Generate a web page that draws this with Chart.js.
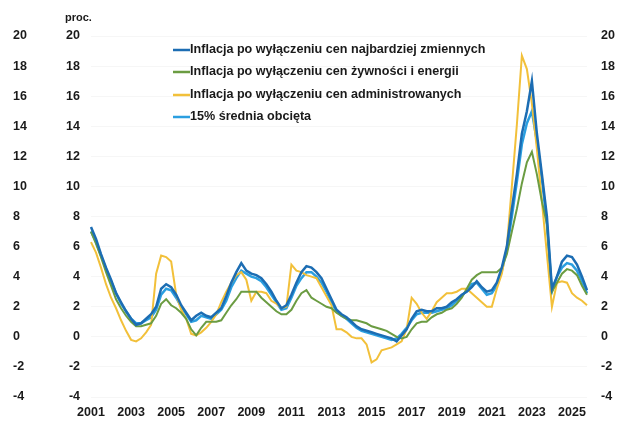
<!DOCTYPE html>
<html>
<head>
<meta charset="utf-8">
<script src="https://cdn.jsdelivr.net/npm/chart.js@4.4.1/dist/chart.umd.min.js"></script>
<style>
  html, body { margin: 0; padding: 0; background: #fff; }
</style>
</head>
<body>
<canvas id="chart" width="617" height="421"></canvas>
<script>
// lata na osi X (dane kwartalne)
const years = [2001, 2002, 2003, 2004, 2005, 2006, 2007, 2008, 2009, 2010, 2011, 2012, 2013,
  2014, 2015, 2016, 2017, 2018, 2019, 2020, 2021, 2022, 2023, 2024, 2025];
const quarters = ["I", "II", "III", "IV"];

// inflacja po wyłączeniu cen najbardziej zmiennych
const bezZmiennych = [
  7.3, 6.5, 5.5, 4.6,   3.8, 2.9, 2.3, 1.7,   1.2, 0.8, 0.9, 1.2,   1.5, 2.0, 3.2, 3.5,
  3.3, 2.8, 2.1, 1.6,   1.1, 1.4, 1.6, 1.4,   1.3, 1.6, 1.9, 2.7,   3.6, 4.3, 4.9, 4.4,
  4.2, 4.1, 3.9, 3.5,   3.0, 2.4, 1.9, 2.1,   2.8, 3.6, 4.3, 4.7,   4.6, 4.3, 3.9, 3.2,
  2.5, 1.8, 1.5, 1.3,   1.0, 0.7, 0.5, 0.4,   0.3, 0.2, 0.1, 0.0,  -0.1, -0.3, 0.1, 0.5,
  1.2, 1.7, 1.8, 1.7,   1.7, 1.9, 1.9, 2.0,   2.3, 2.5, 2.8, 3.0,   3.3, 3.7, 3.3, 3.0,
  3.1, 3.6, 4.6, 6.0,   8.5, 10.8, 13.5, 15.0, 17.0, 13.5, 10.8, 8.0, 3.2, 4.0, 5.0, 5.4,
  5.3, 4.8, 4.0, 3.1
];

// inflacja po wyłączeniu cen żywności i energii
const bezZywnosci = [
  7.0, 6.2, 5.3, 4.3,   3.4, 2.5, 1.9, 1.4,   1.0, 0.7, 0.7, 0.8,   0.9, 1.4, 2.2, 2.5,
  2.1, 1.9, 1.6, 1.2,   0.5, 0.1, 0.6, 1.0,   1.0, 1.0, 1.1, 1.6,   2.1, 2.5, 3.0, 3.0,
  3.0, 3.0, 2.6, 2.3,   2.0, 1.7, 1.5, 1.5,   1.8, 2.4, 2.9, 3.1,   2.6, 2.4, 2.2, 2.0,
  1.9, 1.6, 1.4, 1.2,   1.1, 1.1, 1.0, 0.9,   0.7, 0.6, 0.5, 0.4,   0.2, 0.0, -0.1, 0.0,
  0.5, 0.9, 1.0, 1.0,   1.3, 1.5, 1.6, 1.8,   1.9, 2.2, 2.6, 3.2,   3.8, 4.1, 4.3, 4.3,
  4.3, 4.3, 4.6, 5.5,   7.0, 8.5, 10.2, 11.6, 12.3, 10.8, 9.0, 7.5, 3.0, 3.6, 4.2, 4.5,
  4.4, 4.1, 3.4, 2.8
];

// inflacja po wyłączeniu cen administrowanych
const bezAdministrowanych = [
  6.3, 5.6, 4.6, 3.5,   2.6, 1.9, 1.1, 0.4,  -0.2, -0.3, -0.1, 0.3,  0.8, 4.2, 5.4, 5.3,
  5.0, 2.8, 1.8, 1.2,   0.2, 0.1, 0.3, 0.6,   1.0, 1.5, 2.3, 3.0,   3.6, 4.1, 4.3, 3.8,
  2.4, 3.0, 3.0, 2.9,   2.4, 2.2, 1.9, 2.0,   4.8, 4.4, 4.3, 4.1,   4.0, 3.9, 3.3, 2.7,
  2.1, 0.5, 0.5, 0.3,   0.0, -0.1, -0.1, -0.5, -1.7, -1.5, -0.9, -0.8, -0.7, -0.5, -0.3, 0.5,
  2.6, 2.2, 1.6, 1.2,   1.7, 2.3, 2.6, 2.9,   2.9, 3.0, 3.2, 3.2,   2.9, 2.6, 2.3, 2.0,
  2.0, 3.2, 4.2, 6.0,   10.0, 14.1, 18.7, 17.8, 15.5, 12.5, 9.0, 5.5, 2.0, 3.6, 3.7, 3.6,
  2.9, 2.6, 2.4, 2.1
];

// 15% średnia obcięta
const sredniaObcieta = [
  7.0, 6.3, 5.4, 4.5,   3.7, 2.9, 2.2, 1.7,   1.2, 0.9, 0.9, 1.1,   1.3, 1.8, 2.8, 3.2,
  3.1, 2.6, 2.0, 1.5,   1.0, 1.1, 1.4, 1.3,   1.2, 1.5, 1.8, 2.4,   3.3, 3.9, 4.4, 4.2,
  4.0, 3.9, 3.7, 3.3,   2.8, 2.3, 1.8, 1.9,   2.6, 3.4, 3.9, 4.3,   4.3, 4.0, 3.6, 3.0,
  2.3, 1.7, 1.4, 1.2,   0.9, 0.6, 0.4, 0.3,   0.2, 0.1, 0.0, -0.1, -0.2, -0.1, 0.2, 0.6,
  1.1, 1.5, 1.6, 1.6,   1.6, 1.7, 1.8, 1.9,   2.1, 2.4, 2.7, 3.1,   3.5, 3.6, 3.2, 2.8,
  2.9, 3.4, 4.4, 5.8,   8.0, 10.3, 12.8, 14.2, 15.0, 13.0, 10.5, 7.5, 3.0, 4.0, 4.6, 4.9,
  4.8, 4.4, 3.7, 2.9
];

const seriesLabels = [
  "Inflacja po wyłączeniu cen najbardziej zmiennych",
  "Inflacja po wyłączeniu cen żywności i energii",
  "Inflacja po wyłączeniu cen administrowanych",
  "15% średnia obcięta"
];

const labels = [];
years.forEach(y => quarters.forEach(q => labels.push(y + " " + q)));

const FONT = '"Liberation Sans", Arial, sans-serif';
const colors = ["#1c6db3", "#6b9c42", "#f2c03a", "#2b9fe0"];

// legenda w środku wykresu + napis "proc."
const legendaWewnatrz = {
  id: "legendaWewnatrz",
  afterDraw(chart) {
    const { ctx, chartArea } = chart;
    ctx.save();
    ctx.font = "bold 12.6px " + FONT;
    ctx.textBaseline = "middle";
    ctx.textAlign = "left";
    const rows = [14, 36, 59, 81];
    chart.data.datasets.forEach((ds, i) => {
      const y = chartArea.top + rows[i];
      const x = chartArea.left + 82;
      ctx.strokeStyle = ds.borderColor;
      ctx.lineWidth = 2.5;
      ctx.beginPath();
      ctx.moveTo(x, y);
      ctx.lineTo(x + 17, y);
      ctx.stroke();
      ctx.fillStyle = "#1a1a1a";
      ctx.fillText(ds.label, x + 17, y);
    });
    ctx.font = "bold 11px " + FONT;
    ctx.fillStyle = "#1a1a1a";
    ctx.fillText("proc.", 65, 18);
    ctx.restore();
  }
};

const tickFont = { family: FONT, size: 12.5, weight: "bold" };

const yCommon = {
  min: -4,
  max: 20,
  border: { display: false },
  ticks: { stepSize: 2, color: "#1a1a1a", font: tickFont }
};

new Chart(document.getElementById("chart"), {
  type: "line",
  data: {
    labels: labels,
    datasets: [
      { label: seriesLabels[0], data: bezZmiennych, borderColor: colors[0], borderWidth: 2.5 },
      { label: seriesLabels[1], data: bezZywnosci, borderColor: colors[1], borderWidth: 2 },
      { label: seriesLabels[2], data: bezAdministrowanych, borderColor: colors[2], borderWidth: 2 },
      { label: seriesLabels[3], data: sredniaObcieta, borderColor: colors[3], borderWidth: 2.5 }
    ]
  },
  options: {
    responsive: false,
    animation: false,
    layout: { padding: { left: 13, right: 0, top: 36, bottom: 0 } },
    elements: {
      point: { radius: 0 },
      line: { tension: 0, fill: false }
    },
    plugins: {
      legend: { display: false },
      tooltip: { enabled: false }
    },
    scales: {
      x: {
        type: "category",
        border: { display: false },
        grid: { display: false },
        ticks: {
          autoSkip: false,
          maxRotation: 0,
          padding: 0,
          color: "#1a1a1a",
          font: tickFont,
          callback: (v, i) => (i % 8 === 0 ? labels[i].slice(0, 4) : null)
        },
        afterFit: s => { s.height = 24; }
      },
      // wewnętrzna oś po lewej (pierwsza = najbliżej wykresu)
      y: Object.assign({}, yCommon, {
        position: "left",
        grid: { color: "rgba(0,0,0,0.035)", drawTicks: false },
        ticks: Object.assign({}, yCommon.ticks, { padding: 11 }),
        afterFit: s => { s.width = 41; }
      }),
      yOuter: Object.assign({}, yCommon, {
        position: "left",
        grid: { display: false },
        ticks: Object.assign({}, yCommon.ticks, { crossAlign: "far" }),
        afterFit: s => { s.width = 37; }
      }),
      yRight: Object.assign({}, yCommon, {
        position: "right",
        grid: { display: false, drawTicks: false },
        ticks: Object.assign({}, yCommon.ticks, { padding: 14 }),
        afterFit: s => { s.width = 30; }
      })
    }
  },
  plugins: [legendaWewnatrz]
});
</script>
</body>
</html>
